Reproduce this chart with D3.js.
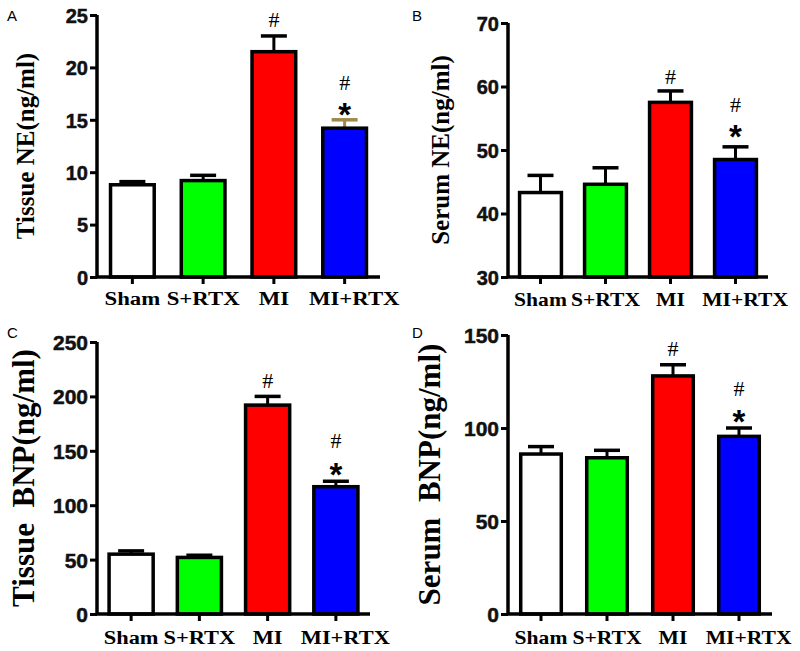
<!DOCTYPE html>
<html><head><meta charset="utf-8">
<script src="https://cdn.jsdelivr.net/npm/d3@7"></script>
<style>body{margin:0;background:#fff}svg{display:block}</style>
</head><body>
<svg id="c" width="800" height="651"></svg>
<script>
const categories = ["Sham", "S+RTX", "MI", "MI+RTX"];
const barColors = ["#ffffff", "#00ff00", "#ff0000", "#0000ff"];

const tissueNE = [8.8, 9.2, 21.5, 14.2];
const tissueNEErr = [0.3, 0.5, 1.5, 0.8];
const serumNE = [43.3, 44.6, 57.5, 48.5];
const serumNEErr = [2.7, 2.6, 1.8, 2.0];
const tissueBNP = [55, 52, 192, 117];
const tissueBNPErr = [3, 2, 8, 5];
const serumBNP = [86, 84, 128, 95.5];
const serumBNPErr = [4, 4, 6, 4.5];

const ticksA = [0, 5, 10, 15, 20, 25];
const ticksB = [30, 40, 50, 60, 70];
const ticksC = [0, 50, 100, 150, 200, 250];
const ticksD = [0, 50, 100, 150];

const hashMarks = ["", "", "#", "#"];
const starMarks = ["", "", "", "*"];

const svg = d3.select("#c");

function panel(o) {
  const g = svg.append("g");
  const y = d3.scaleLinear().domain([o.ticks[0], o.ticks[o.ticks.length - 1]]).range([o.y0, o.yTop]);
  const x = d3.scaleBand().domain(categories).range([o.ax, o.xEnd]).padding(0);
  const bw = x.bandwidth() * o.barFrac;
  const cx = c => x(c) + x.bandwidth() / 2;

  // panel letter
  g.append("text").attr("x", o.lx).attr("y", o.ly).text(o.letter)
    .attr("font-family", "Liberation Sans, Arial, sans-serif").attr("font-size", 15).attr("fill", "#000");

  // y label
  g.append("text")
    .attr("transform", `translate(${o.labX},${(o.y0 + o.yTop) / 2}) rotate(-90)`)
    .attr("text-anchor", "middle").attr("dominant-baseline", "middle")
    .attr("font-family", "Liberation Serif, Times New Roman, serif").attr("font-weight", "bold")
    .attr("font-size", o.labSize).attr("fill", "#000")
    .style("white-space", "pre")
    .text(o.label);

  // error bars
  categories.forEach((c, i) => {
    const v = o.values[i], e = o.errs[i];
    const col = (o.errColors && o.errColors[i]) || "#000";
    g.append("line").attr("x1", cx(c)).attr("x2", cx(c)).attr("y1", y(v)).attr("y2", y(v + e))
      .attr("stroke", col).attr("stroke-width", 3);
    g.append("line").attr("x1", cx(c) - 13).attr("x2", cx(c) + 13).attr("y1", y(v + e)).attr("y2", y(v + e))
      .attr("stroke", col).attr("stroke-width", 3.5);
  });

  // bars
  g.selectAll("rect.bar").data(categories).enter().append("rect")
    .attr("x", c => cx(c) - bw / 2 + 1.5)
    .attr("width", bw - 3)
    .attr("y", (c, i) => y(o.values[i]))
    .attr("height", (c, i) => y(o.ticks[0]) - y(o.values[i]))
    .attr("fill", (c, i) => barColors[i])
    .attr("stroke", "#000").attr("stroke-width", 3.5);

  // y axis
  const ya = d3.axisLeft(y).tickValues(o.ticks).tickSize(7).tickPadding(2).tickFormat(d3.format("d"));
  const yg = g.append("g").attr("transform", `translate(${o.ax},0)`).call(ya);
  yg.select(".domain").attr("stroke-width", 3.5).attr("d", `M0,${o.yTop}V${o.y0}`);
  yg.selectAll(".tick line").attr("stroke-width", 3);
  yg.selectAll(".tick text").attr("font-family", "Liberation Sans, Arial, sans-serif")
    .attr("font-weight", "bold").attr("font-size", o.tickSize).attr("fill", "#111")
    .attr("stroke", "#111").attr("stroke-width", 0.5).attr("dy", "0.36em");

  // x axis
  const xa = d3.axisBottom(x).tickSize(7).tickPadding(o.xPad);
  const xg = g.append("g").attr("transform", `translate(0,${o.y0})`).call(xa);
  xg.select(".domain").attr("stroke-width", 3.5).attr("d", `M${o.ax},0H${o.xEnd}`);
  xg.selectAll(".tick line").attr("stroke-width", 3);
  xg.selectAll(".tick text").attr("font-family", "Liberation Serif, Times New Roman, serif")
    .attr("font-weight", "bold").attr("font-size", o.xSize).attr("fill", "#000")
    .attr("dx", (d, i) => i === categories.length - 1 ? o.lastShift : 0)
    .attr("transform", `scale(${o.xStretch},1)`);

  // annotations
  categories.forEach((c, i) => {
    if (hashMarks[i]) {
      g.append("text").attr("x", cx(c)).attr("y", o.hashY[i]).attr("text-anchor", "middle")
        .attr("font-family", "Liberation Serif, Times New Roman, serif").attr("font-size", 22)
        .attr("fill", "#000").text(hashMarks[i]);
    }
    if (starMarks[i]) {
      g.append("text").attr("x", cx(c)).attr("y", o.starY).attr("text-anchor", "middle")
        .attr("font-family", "Liberation Sans, Arial, sans-serif").attr("font-weight", "bold").attr("font-size", 33)
        .attr("fill", "#000").text(starMarks[i]);
    }
  });
}

panel({letter: "A", lx: 7, ly: 21, ax: 97, xEnd: 380, y0: 277, yTop: 15, ticks: ticksA,
  values: tissueNE, errs: tissueNEErr, errColors: [null, null, null, "#9c8a4c"], barFrac: 0.66,
  label: "Tissue NE(ng/ml)", labX: 28, labSize: 25, tickSize: 20, xSize: 19, xStretch: 1.2, xPad: 8, lastShift: 8,
  hashY: [0, 0, 27, 90], starY: 126});
panel({letter: "B", lx: 412, ly: 21, ax: 508, xEnd: 768, y0: 277, yTop: 23, ticks: ticksB,
  values: serumNE, errs: serumNEErr, barFrac: 0.69,
  label: "Serum NE(ng/ml)", labX: 443, labSize: 25, tickSize: 20, xSize: 18, xStretch: 1.2, xPad: 9, lastShift: 8,
  hashY: [0, 0, 84, 112], starY: 148});
panel({letter: "C", lx: 7, ly: 338, ax: 97, xEnd: 370, y0: 614, yTop: 342, ticks: ticksC,
  values: tissueBNP, errs: tissueBNPErr, barFrac: 0.69,
  label: "Tissue  BNP(ng/ml)", labX: 27, labSize: 31, tickSize: 21, xSize: 19, xStretch: 1.18, xPad: 10, lastShift: 8,
  hashY: [0, 0, 388, 448], starY: 486});
panel({letter: "D", lx: 412, ly: 338, ax: 508, xEnd: 772, y0: 614, yTop: 335, ticks: ticksD,
  values: serumBNP, errs: serumBNPErr, barFrac: 0.66,
  label: "Serum  BNP(ng/ml)", labX: 433, labSize: 31, tickSize: 21, xSize: 18, xStretch: 1.2, xPad: 10, lastShift: 8,
  hashY: [0, 0, 356, 396], starY: 433});
</script>
</body></html>
